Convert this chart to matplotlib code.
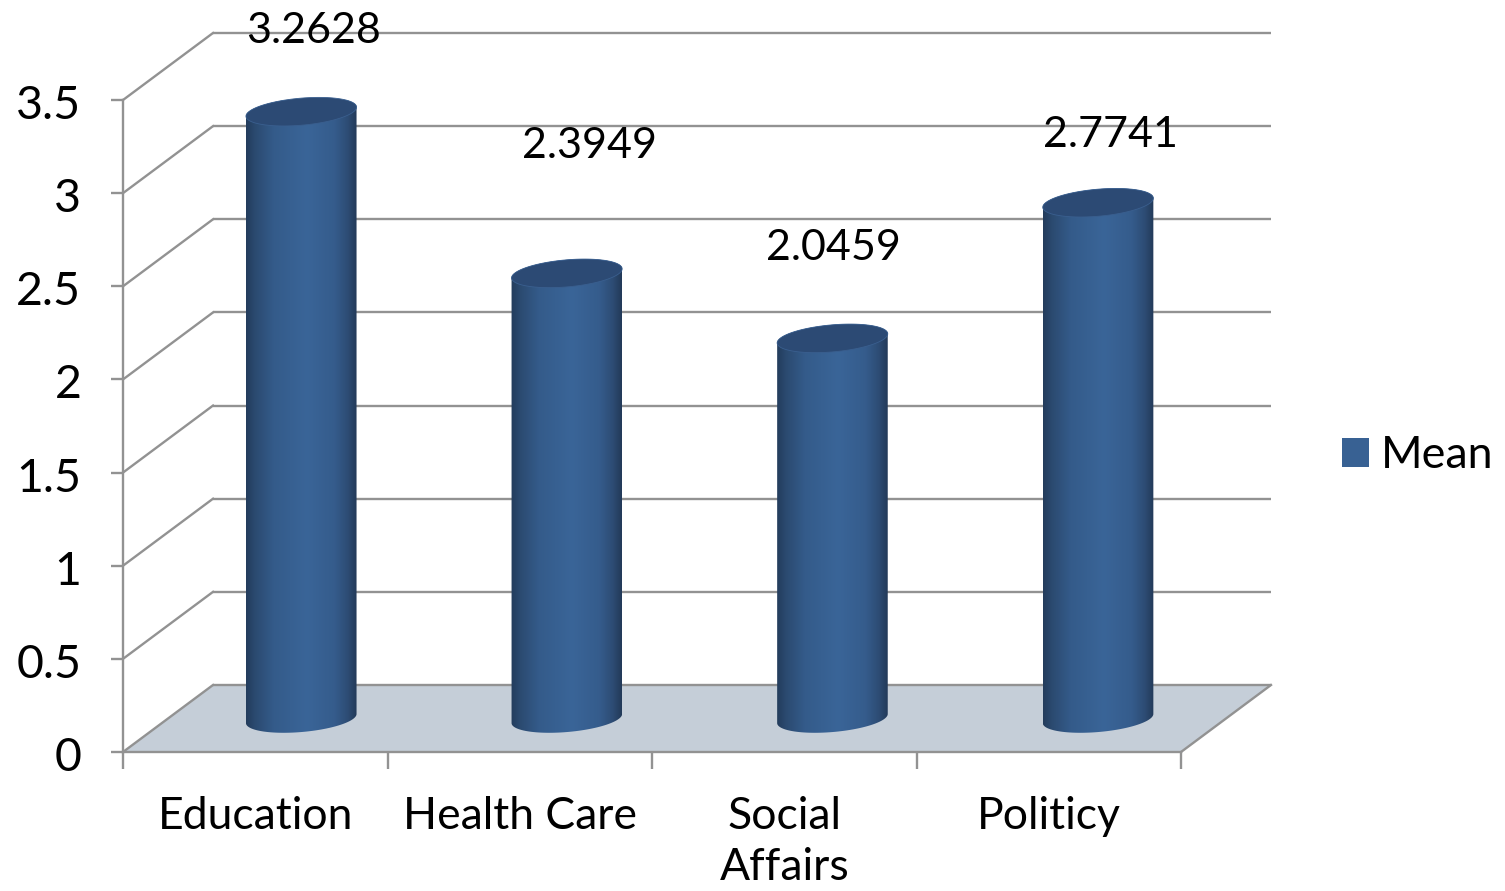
import numpy as np
import matplotlib
matplotlib.use('Agg')
from matplotlib import pyplot as plt
from matplotlib.colors import LinearSegmentedColormap
from matplotlib.patches import Patch, PathPatch, Polygon
from matplotlib.path import Path
from matplotlib.transforms import ScaledTranslation

categories = ['Education', 'Health Care', 'Social\nAffairs', 'Politicy']
means = [3.2628, 2.3949, 2.0459, 2.7741]
y_ticks = [0, 0.5, 1, 1.5, 2, 2.5, 3, 3.5]
y_tick_labels = ['0', '0.5', '1', '1.5', '2', '2.5', '3', '3.5']
value_labels = ['3.2628', '2.3949', '2.0459', '2.7741']

W, H = 1505, 891
plt.rcParams['font.family'] = ['Lato', 'DejaVu Sans']
FS = 32
GREY = '#929292'
LW = 1.7

fig = plt.figure(figsize=(W / 100, H / 100), dpi=100)
ax = fig.add_axes([123 / W, 1 - 752 / H, 1058 / W, 652 / H])
ax.set_xlim(0, 4)
ax.set_ylim(0, 3.5)

# px per data unit, used for depth and the cylinder ellipses
sx = 1058 / 4
sy = 652 / 3.5
dx = 90 / sx
dy = 67 / sy

# floor
ax.add_patch(Polygon([(0, 0), (4, 0), (4 + dx, dy), (dx, dy)], closed=True,
                     facecolor='#c5ced8', edgecolor='none', clip_on=False, zorder=1))
ax.plot([4, 4 + dx], [0, dy], color=GREY, lw=LW, clip_on=False, zorder=2)

# back wall + side wall lines
for t in y_ticks:
    ax.plot([dx, 4 + dx], [t + dy, t + dy], color=GREY, lw=LW, clip_on=False, zorder=2,
            solid_capstyle='butt')
    ax.plot([0, dx], [t, t + dy], color=GREY, lw=LW, clip_on=False, zorder=2)

# cylinders
cmap = LinearSegmentedColormap.from_list('cyl', [
    (0.0, '#233c5c'), (0.08, '#2b4a70'), (0.25, '#345b8a'), (0.55, '#3a6598'),
    (0.8, '#355c8c'), (0.92, '#2d4c74'), (1.0, '#233a58')])
shade = np.linspace(0, 1, 256).reshape(1, -1)
a, b, tilt = 55.5, 13.5, np.radians(5)
# the cylinders are spaced a little wider than the axis ticks
bar_step = 265.6 / sx


def ellipse_pts(cx, cy, t):
    ex = a * np.cos(t) * np.cos(tilt) - b * np.sin(t) * np.sin(tilt)
    ey = a * np.cos(t) * np.sin(tilt) + b * np.sin(t) * np.cos(tilt)
    return np.column_stack([cx + ex / sx, cy + ey / sy])


for i, v in enumerate(means):
    cx = 0.5 + dx / 2 + 1 / sx + i * bar_step
    base = dy / 2
    top = v + dy / 2 - 1 / sy
    lower = ellipse_pts(cx, base, np.linspace(np.pi, 2 * np.pi, 60))
    upper = ellipse_pts(cx, top, np.linspace(0, np.pi, 60))
    outline = Path(np.vstack([lower, upper, lower[:1]]), closed=True)
    body = PathPatch(outline, facecolor='none', edgecolor='none', clip_on=False, zorder=3)
    ax.add_patch(body)
    im = ax.imshow(shade, cmap=cmap, aspect='auto', zorder=3, interpolation='bilinear',
                   extent=[cx - a / sx, cx + a / sx, 0, top + 0.2], clip_on=True)
    im.set_clip_path(body)
    cap = ellipse_pts(cx, top, np.linspace(0, 2 * np.pi, 120))
    ax.add_patch(Polygon(cap, closed=True, facecolor='#2c4a74', edgecolor='#3a5f8f', lw=0.6,
                         clip_on=False, zorder=4))

ax.set_xlim(0, 4)
ax.set_ylim(0, 3.5)

# axes
for side in ['top', 'right']:
    ax.spines[side].set_visible(False)
for side in ['left', 'bottom']:
    ax.spines[side].set_color(GREY)
    ax.spines[side].set_linewidth(LW)
    ax.spines[side].set_zorder(2)
ax.set_yticks(y_ticks)
ax.set_yticklabels(y_tick_labels)
ax.tick_params(axis='y', length=9, width=LW, color=GREY, labelsize=FS + 1.5, pad=21)
ax.set_xticks(np.arange(len(categories)) + 0.5)
ax.set_xticklabels(categories, linespacing=1.3)
ax.set_xticks(np.arange(len(categories) + 1), minor=True)
ax.tick_params(axis='x', which='major', length=0, labelsize=FS, pad=32)
ax.tick_params(axis='x', which='minor', length=12, width=LW, color=GREY)

# tick labels in the original sit a bit lower than centred
drop = ScaledTranslation(0, -2 / 100, fig.dpi_scale_trans)
for lab in ax.get_yticklabels():
    lab.set_transform(lab.get_transform() + drop)

# data labels sit where the original chart put them
label_px = [(314, 31), (590, 146), (833, 248), (1110, 135)]
for s, (px, py) in zip(value_labels, label_px):
    fig.text(px / W, 1 - py / H, s, ha='center', va='center', fontsize=FS - 1, color='black', zorder=6)

leg = fig.legend(handles=[Patch(facecolor='#386193', edgecolor='none', label='Mean')],
                 loc='center left', bbox_to_anchor=(1333 / W, 1 - 456 / H), frameon=False,
                 fontsize=FS + 0.3, handlelength=0.6, handleheight=0.6, handletextpad=0.27,
                 borderpad=0.2, borderaxespad=0)

fig.savefig('out.png', dpi=100)
